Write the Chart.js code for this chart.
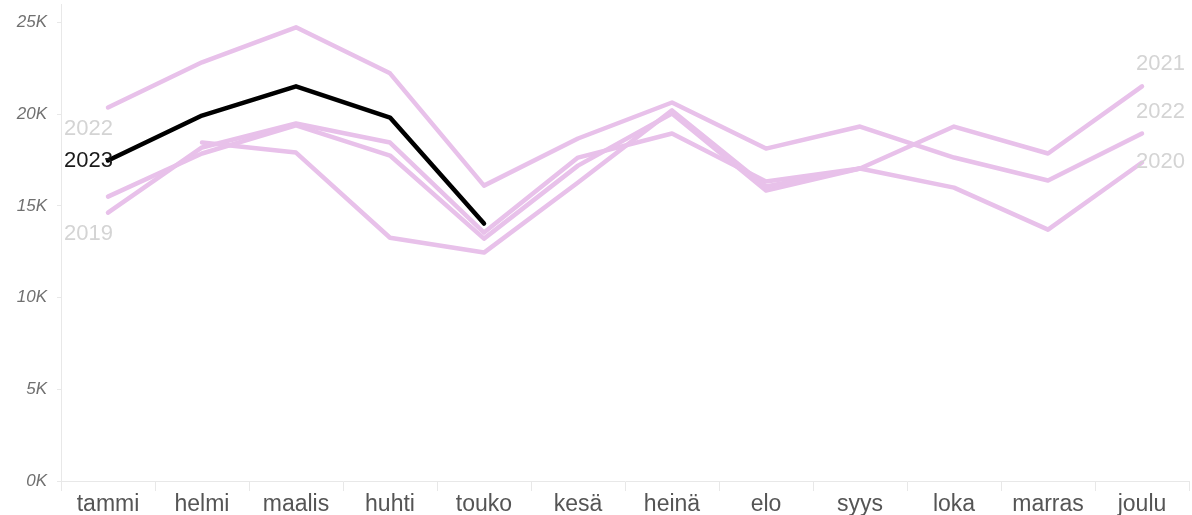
<!DOCTYPE html>
<html>
<head>
<meta charset="utf-8">
<script src="https://cdn.jsdelivr.net/npm/chart.js@4.4.0/dist/chart.umd.min.js"></script>
<style>
  html, body { margin: 0; padding: 0; background: #fff; }
  #wrap { width: 1192px; height: 515px; }
</style>
</head>
<body>
<div id="wrap"><canvas id="chart" width="1192" height="515"></canvas></div>
<script>
// months and yearly values
var months = ['tammi', 'helmi', 'maalis', 'huhti', 'touko', 'kesä', 'heinä', 'elo', 'syys', 'loka', 'marras', 'joulu'];
var y2019 = [14630, 18180, 19490, 18450, 13540, 17630, 18940, 16320, 17030, null, null, null];
var y2020 = [15500, 17850, 19380, 17740, 13210, 17190, 20030, 15830, 17030, 15990, 13700, 17360];
var y2021 = [null, 18450, 17900, 13260, 12450, 16270, 20200, 16050, 17030, 19320, 17850, 21510];
var y2022 = [20360, 22820, 24730, 22220, 16100, 18670, 20630, 18120, 19320, 17630, 16380, 18940];
var y2023 = [17470, 19920, 21510, 19810, 14030, null, null, null, null, null, null, null];
var years = ['2023', '2022', '2021', '2020', '2019'];
var yTicks = [0, 5000, 10000, 15000, 20000, 25000];

var pink = '#e8c1ea';
var font = "'Liberation Sans', Arial, sans-serif";

function firstIdx(arr) { for (var i = 0; i < arr.length; i++) if (arr[i] != null) return i; }
function lastIdx(arr) { for (var i = arr.length - 1; i >= 0; i--) if (arr[i] != null) return i; }

// year labels at line ends (dataset index, side, vertical shift)
var endLabels = [
  { ds: 1, side: 'start', dy: 21 },
  { ds: 0, side: 'start', dy: 0 },
  { ds: 4, side: 'start', dy: 21 },
  { ds: 2, side: 'end', dy: -22 },
  { ds: 1, side: 'end', dy: -22 },
  { ds: 3, side: 'end', dy: -1 }
];

var yearLabelPlugin = {
  id: 'yearLabels',
  afterDatasetsDraw: function(chart) {
    var ctx = chart.ctx;
    ctx.save();
    ctx.font = '22px ' + font;
    ctx.textBaseline = 'middle';
    endLabels.forEach(function(l) {
      var ds = chart.data.datasets[l.ds];
      var idx = l.side === 'start' ? firstIdx(ds.data) : lastIdx(ds.data);
      var pt = chart.getDatasetMeta(l.ds).data[idx];
      ctx.fillStyle = ds.label === '2023' ? '#1a1a1a' : '#d4d4d4';
      if (l.side === 'start') {
        ctx.textAlign = 'right';
        ctx.fillText(ds.label, pt.x + 5, pt.y + l.dy);
      } else {
        ctx.textAlign = 'left';
        ctx.fillText(ds.label, pt.x - 6, pt.y + l.dy);
      }
    });
    ctx.restore();
  }
};

var series = [y2023, y2022, y2021, y2020, y2019];
var datasets = series.map(function(d, i) {
  return {
    label: years[i],
    data: d,
    borderColor: i === 0 ? '#000000' : pink,
    borderWidth: 4.5,
    borderJoinStyle: 'round',
    borderCapStyle: 'round',
    pointRadius: 0,
    fill: false,
    tension: 0,
    order: i === 0 ? 0 : 1
  };
});

new Chart(document.getElementById('chart'), {
  type: 'line',
  data: { labels: months, datasets: datasets },
  plugins: [yearLabelPlugin],
  options: {
    responsive: false,
    devicePixelRatio: 1,
    animation: false,
    layout: { padding: { top: 4, right: 3, left: 0, bottom: 0 } },
    plugins: { legend: { display: false }, tooltip: { enabled: false } },
    scales: {
      x: {
        offset: true,
        grid: { offset: true, drawOnChartArea: false, color: '#e8e8e8', tickLength: 10 },
        border: { color: '#e8e8e8' },
        ticks: { color: '#555555', font: { family: font, size: 23 }, padding: 0, maxRotation: 0 },
        afterFit: function(s) { s.height = 34; }
      },
      y: {
        min: 0,
        max: 26000,
        afterBuildTicks: function(s) { s.ticks = yTicks.map(function(v) { return { value: v }; }); },
        grid: { drawOnChartArea: false, color: '#e8e8e8', tickLength: 4 },
        border: { color: '#e8e8e8' },
        ticks: {
          color: '#707070',
          padding: 10,
          font: { family: font, size: 17, style: 'italic' },
          callback: function(v) { return (v / 1000) + 'K'; }
        },
        afterFit: function(s) { s.width = 61; s.paddingTop = 0; s.paddingBottom = 0; }
      }
    }
  }
});
</script>
</body>
</html>
